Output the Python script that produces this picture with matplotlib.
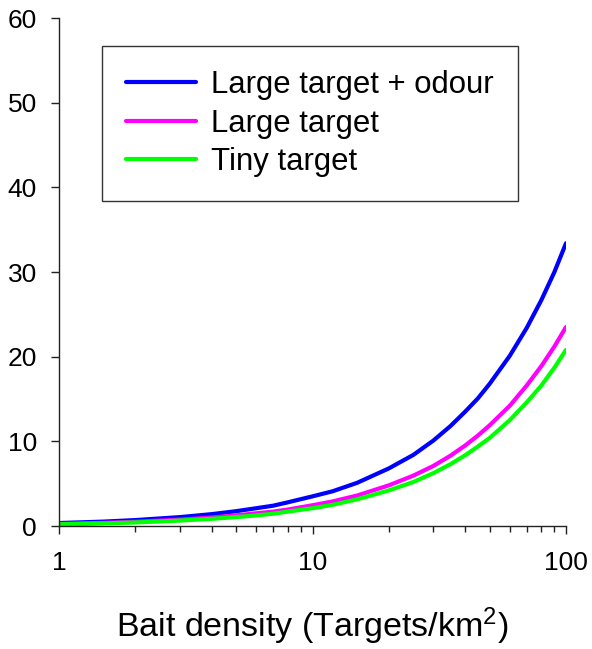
import matplotlib
matplotlib.use('Agg')
import matplotlib.pyplot as plt

plt.rcParams['font.family'] = ['Liberation Sans', 'DejaVu Sans']
plt.rcParams['mathtext.default'] = 'regular'

# Bait density (targets/km2) and values
density = [1, 1.5, 2, 3, 4, 5, 6, 7, 8, 10, 12, 15, 20, 25, 30, 35, 40, 45, 50, 60, 70, 80, 90, 100]
large_odour = [0.35, 0.52, 0.7, 1.05, 1.4, 1.75, 2.1, 2.4, 2.8, 3.5, 4.1, 5.1, 6.8, 8.4, 10.1, 11.8,
               13.5, 15.1, 16.8, 20.1, 23.4, 26.7, 30.0, 33.4]
large_target = [0.25, 0.37, 0.5, 0.75, 1.0, 1.25, 1.5, 1.7, 1.95, 2.45, 2.9, 3.6, 4.8, 5.95, 7.1, 8.3,
                9.5, 10.7, 11.9, 14.2, 16.6, 18.9, 21.2, 23.5]
tiny_target = [0.2, 0.31, 0.42, 0.64, 0.85, 1.05, 1.25, 1.45, 1.7, 2.1, 2.5, 3.15, 4.2, 5.2, 6.25, 7.3,
               8.35, 9.4, 10.4, 12.5, 14.6, 16.6, 18.7, 20.8]

fig = plt.figure(figsize=(5.92, 6.49), dpi=100)
ax = fig.add_axes([59 / 592, 1 - 526 / 649, (566 - 59) / 592, (526 - 18) / 649])

ax.plot(density, large_odour, color='#0000ff', lw=3.0, label='Large target + odour', solid_capstyle='round')
ax.plot(density, large_target, color='#ff00ff', lw=3.0, label='Large target', solid_capstyle='round')
ax.plot(density, tiny_target, color='#00ff00', lw=3.0, label='Tiny target', solid_capstyle='round')

ax.set_xscale('log')
ax.set_xlim(1, 100)
ax.set_ylim(0, 60)
ax.set_xticks([1, 10, 100])
ax.set_xticklabels(['1', '10', '100'])
ax.set_yticks([0, 10, 20, 30, 40, 50, 60])

for s in ['top', 'right']:
    ax.spines[s].set_visible(False)
for s in ['left', 'bottom']:
    ax.spines[s].set_linewidth(1.0)
    ax.spines[s].set_color('#222222')

ax.tick_params(axis='both', which='major', direction='out', length=6, width=1,
               labelsize=19, colors='#222222', labelcolor='black')
ax.tick_params(axis='y', which='major', pad=10)
ax.tick_params(axis='x', which='minor', direction='out', length=4, width=1, colors='#222222')
ax.tick_params(axis='x', which='major', pad=12)

ax.set_xlabel('Bait density (Targets/km$^{2}$)', fontsize=24.5, labelpad=22)

leg = ax.legend(loc='upper left', bbox_to_anchor=(102 / 592, 1 - 46 / 649),
                bbox_transform=fig.transFigure, borderaxespad=0, fontsize=22.4,
                frameon=True, fancybox=False, edgecolor='black', handlelength=2.25,
                handletextpad=0.48, labelspacing=0.27, borderpad=0.78)
leg.get_frame().set_linewidth(1.0)

fig.savefig('out.png', dpi=100)
